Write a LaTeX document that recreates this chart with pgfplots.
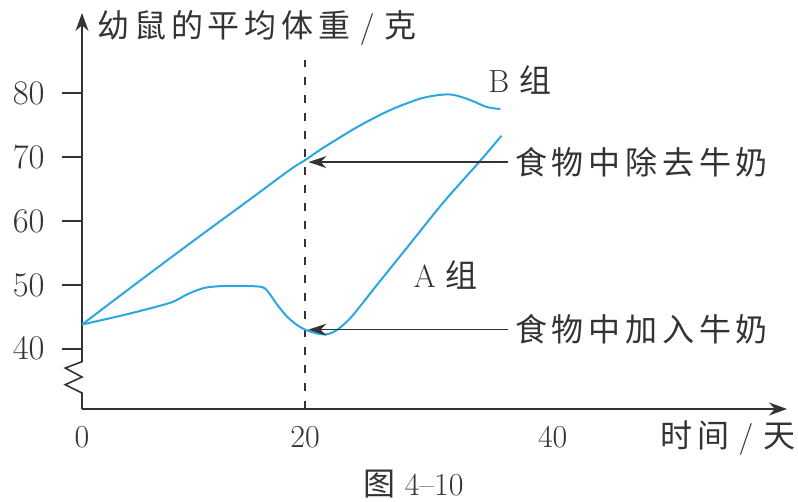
\documentclass[border=0pt]{standalone}
\usepackage{fontspec}
\usepackage{pgfplots}
\pgfplotsset{compat=1.18}
\usetikzlibrary{arrows.meta}
\newfontfamily\cjk[LetterSpace=15]{Noto Sans CJK SC}
\definecolor{curve}{HTML}{2AA7E0}
\definecolor{ink}{HTML}{333333}
\begin{document}
\begin{tikzpicture}
\useasboundingbox (0,0) rectangle (399pt,251pt);
\begin{axis}[
  at={(41pt,46.5pt)}, anchor=south west,
  scale only axis, width=352.5pt, height=198pt,
  xmin=0, xmax=63.2, ymin=30.6, ymax=92.5,
  clip=false,
  axis x line*=bottom, axis y line*=left,
  x axis line style={draw=ink, line width=0.8pt, -{Stealth[length=9pt,width=6.5pt]}},
  y axis line style={draw=none},
  xtick={0,20,42.2}, xticklabels={0,20,40},
  xtick style={draw=none},
  ytick={40,50,60,70,80},
  ytick style={draw=none},
  tick align=outside, major tick length=9.5pt,
  tick label style={font=\fontsize{16}{18}\selectfont, text=ink},
  xticklabel style={anchor=north, inner sep=0pt, yshift=1pt},
  yticklabel style={anchor=east, inner sep=0pt, xshift=-9pt},
]
% y axis with break
\draw[ink, line width=0.8pt, -{Stealth[length=9pt,width=6.5pt]}]
  (axis cs:0,30.6) -- (axis cs:0,33.1) -- (axis cs:-1.5,34.4) -- (axis cs:0,35.6)
  -- (axis cs:-1.5,37.0) -- (axis cs:0,38.0) -- (axis cs:0,92.5);
% y tick marks
\draw[ink, line width=0.8pt] (axis cs:-1.75,40) -- (axis cs:0,40);
\draw[ink, line width=0.8pt] (axis cs:-1.75,50) -- (axis cs:0,50);
\draw[ink, line width=0.8pt] (axis cs:-1.75,60) -- (axis cs:0,60);
\draw[ink, line width=0.8pt] (axis cs:-1.75,70) -- (axis cs:0,70);
\draw[ink, line width=0.8pt] (axis cs:-1.75,80) -- (axis cs:0,80);
% dashed line at day 20
\draw[ink, line width=0.8pt, dash pattern=on 4pt off 5pt] (axis cs:20,30.6) -- (axis cs:20,85.2);
% B group
\addplot[curve, line width=1pt, smooth, tension=0.5] coordinates {
  (0,43.8) (5,50.4) (10,56.9) (15,63.3) (18.65,68.0) (20,69.5) (21.6,71.4)
  (24.7,74.7) (27.6,77.3) (30.3,79.1) (32.1,79.7) (33.3,79.7) (34.8,78.9)
  (36.3,77.8) (37.5,77.5)
};
% A group
\addplot[curve, line width=1pt, smooth, tension=0.5] coordinates {
  (0,43.8) (4,45.4) (7.9,47.2) (9.4,48.5) (10.9,49.5) (12.4,49.8) (14.2,49.85)
  (16.0,49.7) (16.6,49.1) (17.5,46.9) (18.4,45.0) (19.3,43.7) (20,43.0)
  (21.1,42.4) (22.0,42.3) (22.9,43.0) (24.0,44.7) (25.0,46.8) (26.4,49.9)
  (29.4,56.4) (32.4,62.9) (35.7,69.4) (37.6,73.3)
};
% arrows
\draw[ink, line width=0.8pt, -{Stealth[length=9pt,width=6pt]}] (axis cs:38.2,69.2) -- (axis cs:20.3,69.2);
\draw[ink, line width=0.8pt, -{Stealth[length=9pt,width=6pt]}] (axis cs:38.2,43.0) -- (axis cs:20.3,43.0);
% texts
\tikzset{lab/.style={anchor=west, inner sep=0pt, text=ink, font=\fontsize{16}{18}\selectfont}}
\node[lab] at (axis cs:38.8,69.2) {\cjk 食物中除去牛奶};
\node[lab] at (axis cs:38.8,43.0) {\cjk 食物中加入牛奶};
\node[lab] at (axis cs:36.4,82.0) {B {\cjk 组}};
\node[lab] at (axis cs:29.7,51.6) {A {\cjk 组}};
\node[lab] at (axis cs:1.35,90.2) {{\cjk 幼鼠的平均体重} / {\cjk 克}};
\node[lab] at (axis cs:51.8,26.0) {{\cjk 时间} / {\cjk 天}};
\node[inner sep=0pt, text=ink, font=\fontsize{16}{18}\selectfont] at (axis cs:29.7,18.9) {{\cjk 图} 4--10};
\end{axis}
\end{tikzpicture}
\end{document}
